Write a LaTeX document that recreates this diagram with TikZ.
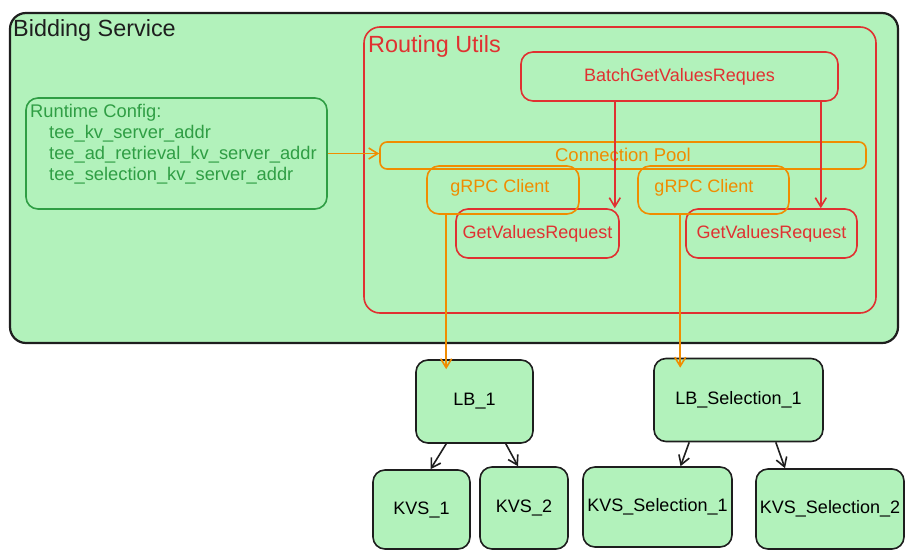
\documentclass[tikz,border=0pt]{standalone}
\usepackage{fontspec}
\setmainfont{Liberation Sans}
\usetikzlibrary{arrows.meta}
\definecolor{boxfill}{HTML}{B2F2BB}
\definecolor{ink}{HTML}{1E1E1E}
\definecolor{redc}{HTML}{E03131}
\definecolor{orangec}{HTML}{F08C00}
\definecolor{greenc}{HTML}{2F9E44}
\begin{document}
\begin{tikzpicture}[x=1pt,y=-1pt,
  box/.style={draw, rounded corners=12pt, line width=1.6pt, inner sep=0pt,
    font=\fontsize{18}{20}\selectfont},
  blackbox/.style={box, draw=ink, fill=boxfill},
  redbox/.style={box, draw=redc, text=redc},
  orangebox/.style={box, draw=orangec, text=orangec},
  tip/.style={-{Straight Barb[length=9pt,width=11pt,line width=1.6pt]}, line width=1.6pt},
  title/.style={inner sep=0pt, font=\fontsize{23.4}{26}\selectfont}]
\useasboundingbox (0,0) rectangle (915,557);

% containers
\node[box, draw=ink, fill=boxfill, line width=2.2pt, rounded corners=16pt,
  minimum width=888pt, minimum height=330pt] (bidding) at (454,178) {};
\node[title, anchor=base west, text=ink] (biddingtitle) at (13,36) {Bidding Service};

\node[redbox, rounded corners=16pt, minimum width=512pt, minimum height=286pt] (routing) at (620,170) {};
\node[title, anchor=base west, text=redc] (routingtitle) at (368,52) {Routing Utils};

% runtime config
\node[box, draw=greenc, minimum width=301pt, minimum height=111pt] (rc) at (176.5,153.5) {};
\node[inner sep=0pt, anchor=north west, align=left, text=greenc,
  font=\fontsize{18.3}{21}\selectfont] (rctext) at (30,104)
  {Runtime Config:\\\hspace*{19pt}tee\_kv\_server\_addr\\\hspace*{19pt}tee\_ad\_retrieval\_kv\_server\_addr\\\hspace*{19pt}tee\_selection\_kv\_server\_addr};

% routing internals
\node[redbox, minimum width=317pt, minimum height=49pt] (batch) at (679.5,76.5) {BatchGetValuesReques};
\node[orangebox, rounded corners=7pt, minimum width=486pt, minimum height=27pt] (pool) at (623,155.5) {};
\node[inner sep=0pt, text=orangec, font=\fontsize{18.5}{20}\selectfont] (pooltext) at (623,155) {Connection Pool};
\node[redbox, minimum width=163pt, minimum height=49pt] (gv1) at (537.5,233.5) {GetValuesRequest};
\node[redbox, minimum width=171pt, minimum height=49pt] (gv2) at (771.5,233.5) {GetValuesRequest};
\node[orangebox, minimum width=152pt, minimum height=48pt] (grpc1) at (503,190) {};
\node[inner sep=0pt, text=orangec, font=\fontsize{18}{20}\selectfont] (grpc1text) at (500,188) {gRPC Client};
\node[orangebox, minimum width=151pt, minimum height=48pt] (grpc2) at (713.5,190) {};
\node[inner sep=0pt, text=orangec, font=\fontsize{18}{20}\selectfont] (grpc2text) at (704,188) {gRPC Client};

% outside
\node[blackbox, minimum width=117pt, minimum height=83pt] (lb1) at (474.5,401.5) {LB\_1};
\node[blackbox, minimum width=169pt, minimum height=83pt] (lbs) at (738.5,400) {LB\_Selection\_1};
\node[blackbox, minimum width=97pt, minimum height=79pt] (kvs1) at (421.5,509.5) {KVS\_1};
\node[blackbox, minimum width=88pt, minimum height=82pt] (kvs2) at (524,508) {KVS\_2};
\node[blackbox, minimum width=149pt, minimum height=80pt] (kvss1) at (657.5,507) {KVS\_Selection\_1};
\node[blackbox, minimum width=148pt, minimum height=80pt] (kvss2) at (830,509) {KVS\_Selection\_2};

% connectors
\draw[tip, orangec] (rc.east) -- (rc.east -| pool.west);
\draw[tip, redc] ([xshift=-5pt]gv1.north east |- batch.south) -- ([xshift=-5pt]gv1.north east);
\draw[tip, redc] ([xshift=-18pt]batch.south east) -- ([xshift=-18pt]batch.south east |- gv2.north);
\draw[tip, orangec] ([xshift=20pt]grpc1.south west) -- ([xshift=20pt,yshift=-10pt]grpc1.south west |- lb1.north);
\draw[tip, orangec] ([xshift=43pt]grpc2.south west) -- ([xshift=43pt,yshift=-10pt]grpc2.south west |- lbs.north);
\draw[tip, ink] ([xshift=31pt]lb1.south west) -- ([xshift=9pt]kvs1.north);
\draw[tip, ink] ([xshift=-28pt]lb1.south east) -- ([xshift=-6pt]kvs2.north);
\draw[tip, ink] ([xshift=36pt]lbs.south west) -- ([xshift=23pt]kvss1.north);
\draw[tip, ink] ([xshift=-48pt]lbs.south east) -- ([xshift=-45pt]kvss2.north);
\end{tikzpicture}
\end{document}
